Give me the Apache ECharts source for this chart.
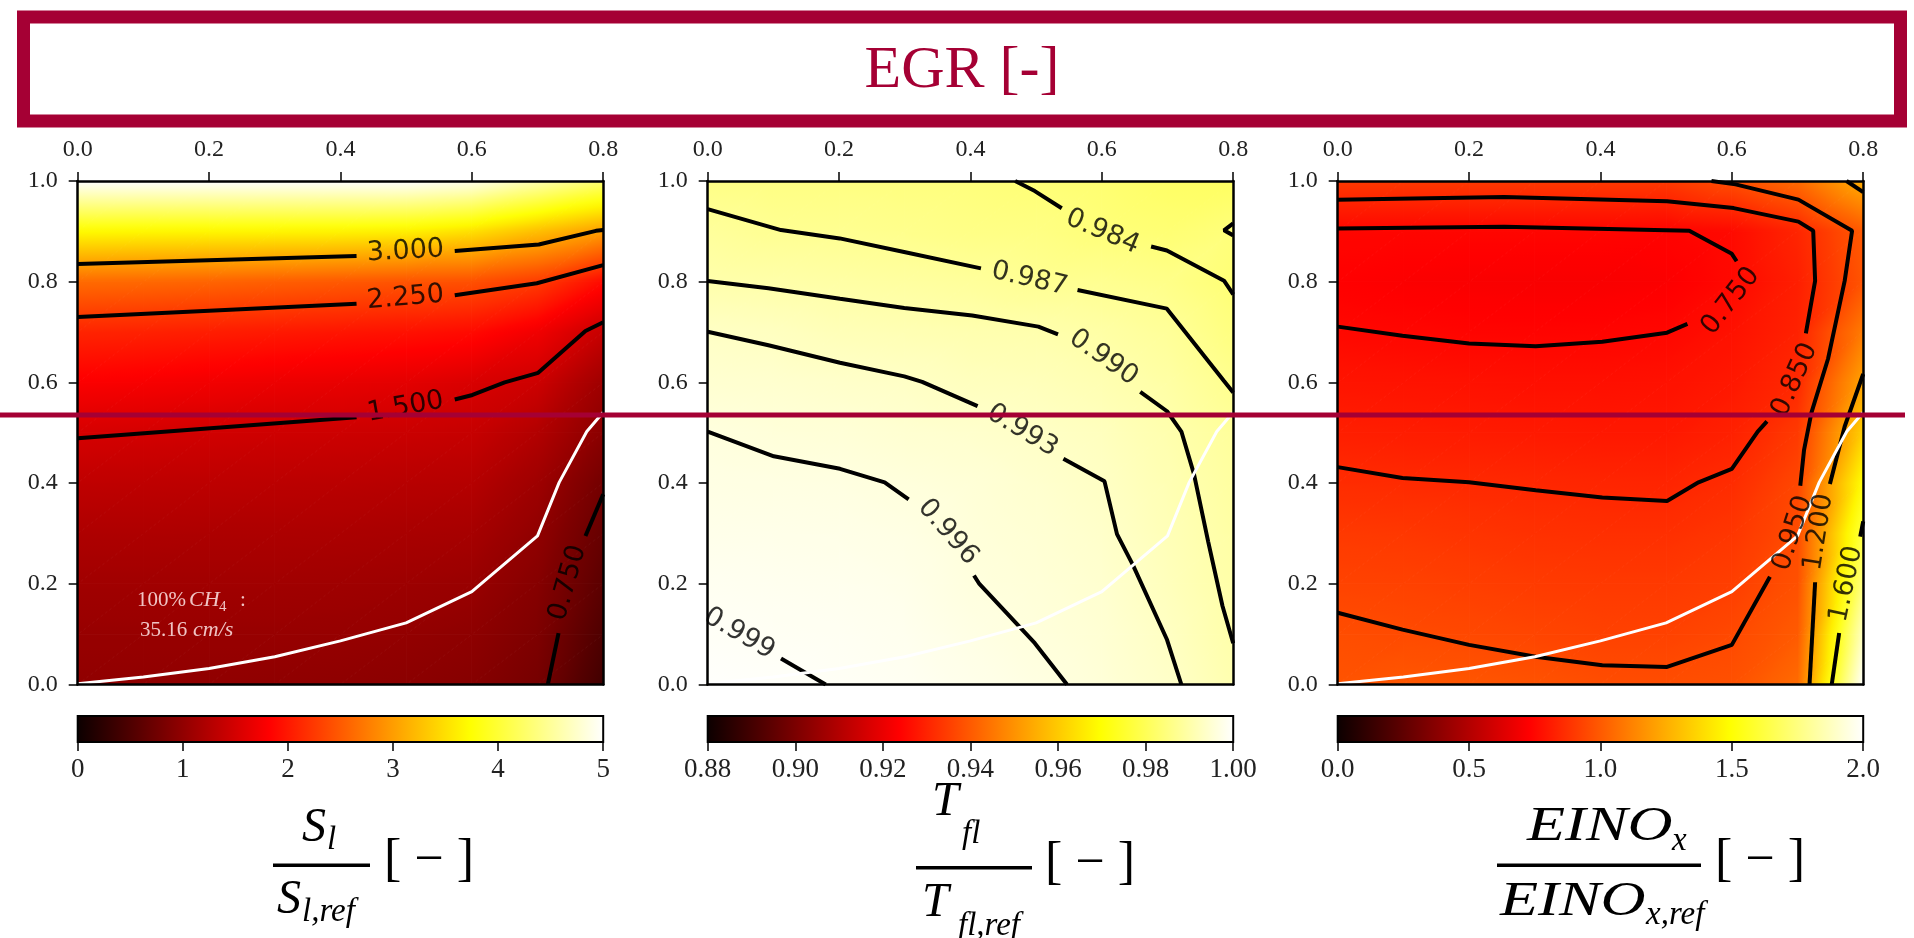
<!DOCTYPE html>
<html>
<head>
<meta charset="utf-8">
<script src="https://cdn.jsdelivr.net/npm/echarts@6.0.0/dist/echarts.min.js"></script>
<style>
  html, body { margin: 0; padding: 0; background: #fff; }
  #chart { width: 1914px; height: 938px; }
</style>
</head>
<body>
<div id="chart"></div>
<script>
// grid nodes (EGR on x, second parameter on y)
const egr = [0, 0.1, 0.2, 0.3, 0.4, 0.5, 0.6, 0.7, 0.8];
const yNodes = [0, 0.1, 0.2, 0.3, 0.4, 0.5, 0.6, 0.7, 0.8, 0.9, 1.0];

// S_l / S_l,ref, rows from y=0 (bottom) to y=1 (top)
const slValues = [
  [1.00, 1.00, 1.00, 0.99, 0.98, 0.96, 0.92, 0.80, 0.40],
  [1.05, 1.05, 1.05, 1.05, 1.04, 1.02, 0.98, 0.86, 0.50],
  [1.12, 1.12, 1.12, 1.12, 1.11, 1.09, 1.06, 0.92, 0.60],
  [1.22, 1.22, 1.21, 1.21, 1.20, 1.18, 1.16, 1.00, 0.68],
  [1.35, 1.34, 1.33, 1.32, 1.31, 1.29, 1.27, 1.10, 0.78],
  [1.52, 1.50, 1.48, 1.46, 1.45, 1.43, 1.40, 1.25, 0.95],
  [1.80, 1.77, 1.73, 1.69, 1.66, 1.62, 1.54, 1.45, 1.10],
  [2.09, 2.07, 2.04, 2.01, 1.98, 1.95, 1.90, 1.72, 1.40],
  [2.62, 2.60, 2.57, 2.53, 2.49, 2.45, 2.42, 2.27, 1.90],
  [3.70, 3.68, 3.67, 3.66, 3.65, 3.62, 3.50, 3.25, 3.00],
  [5.00, 5.00, 5.00, 5.00, 5.00, 5.00, 4.90, 4.60, 4.30]
];

// T_fl / T_fl,ref
const tflValues = [
  [0.9997, 0.9994, 0.9989, 0.9985, 0.9975, 0.9965, 0.9953, 0.9935, 0.9905],
  [0.9990, 0.9987, 0.9985, 0.9980, 0.9968, 0.9958, 0.9948, 0.9928, 0.9898],
  [0.9983, 0.9981, 0.9979, 0.9974, 0.99605, 0.9953, 0.9943, 0.9920, 0.9895],
  [0.9975, 0.9974, 0.9972, 0.9967, 0.9956, 0.9948, 0.9937, 0.9915, 0.9892],
  [0.9968, 0.9966, 0.9964, 0.9958, 0.9952, 0.9942, 0.9930, 0.9910, 0.9887],
  [0.9960, 0.9955, 0.9952, 0.9945, 0.9940, 0.9932, 0.9922, 0.9903, 0.9880],
  [0.9945, 0.9942, 0.9937, 0.9932, 0.9922, 0.9918, 0.9908, 0.9892, 0.9865],
  [0.9930, 0.9925, 0.9915, 0.9910, 0.9905, 0.9902, 0.9893, 0.9878, 0.9848],
  [0.9900, 0.9897, 0.9892, 0.9887, 0.9880, 0.9870, 0.9868, 0.9858, 0.9835],
  [0.9880, 0.9870, 0.9868, 0.9862, 0.9855, 0.9852, 0.9840, 0.9833, 0.9841],
  [0.9855, 0.9852, 0.9850, 0.9847, 0.9843, 0.9837, 0.9830, 0.9816, 0.9812]
];

// EINOx / EINOx,ref
const einoxValues = [
  [0.980, 0.990, 0.985, 0.975, 0.960, 0.960, 0.970, 1.050, 2.00],
  [0.960, 0.952, 0.945, 0.935, 0.925, 0.925, 0.945, 1.000, 1.88],
  [0.930, 0.925, 0.915, 0.905, 0.900, 0.900, 0.915, 0.970, 1.75],
  [0.900, 0.895, 0.885, 0.875, 0.870, 0.870, 0.890, 0.955, 1.63],
  [0.860, 0.855, 0.851, 0.845, 0.840, 0.838, 0.860, 0.940, 1.50],
  [0.820, 0.815, 0.810, 0.805, 0.800, 0.800, 0.825, 0.900, 1.35],
  [0.790, 0.785, 0.780, 0.775, 0.775, 0.780, 0.800, 0.850, 1.22],
  [0.755, 0.748, 0.742, 0.740, 0.742, 0.749, 0.780, 0.830, 1.10],
  [0.730, 0.720, 0.715, 0.712, 0.712, 0.720, 0.755, 0.820, 0.98],
  [0.748, 0.745, 0.745, 0.745, 0.745, 0.740, 0.760, 0.840, 1.00],
  [0.900, 0.900, 0.900, 0.900, 0.900, 0.900, 0.960, 1.050, 1.25]
];

// colour ranges and colourbar ticks [min, max, step]
const slRange = [0, 5, 1];
const tflRange = [0.88, 1.0, 0.02];
const einoxRange = [0, 2, 0.5];

// white reference curve (same in all three panels)
const whiteCurve = [[0, 0.0013], [0.1, 0.015], [0.2, 0.0316], [0.3, 0.0551], [0.4, 0.0867], [0.5, 0.1224],
  [0.6, 0.1843], [0.7, 0.2952], [0.733, 0.4015], [0.775, 0.5024], [0.8, 0.5407]];

// contour pieces (broken where the inline labels sit)
const slContours = [
  [[0, 0.835], [0.4245, 0.851]], [[0.574, 0.861], [0.702, 0.874], [0.789, 0.901], [0.8, 0.9025]],
  [[0, 0.730], [0.4245, 0.756]], [[0.574, 0.773], [0.699, 0.797], [0.8, 0.833]],
  [[0, 0.489], [0.4245, 0.531]], [[0.574, 0.566], [0.601, 0.575], [0.650, 0.600], [0.701, 0.619], [0.773, 0.702], [0.8, 0.7196]],
  [[0.7157, 0], [0.732, 0.102]], [[0.773, 0.295], [0.8, 0.378]]
];
const slLabels = [[0.499, 0.860, '3.000'], [0.499, 0.768, '2.250'], [0.499, 0.551, '1.500'], [0.7462, 0.2017, '0.750']];
const slAngles = [3, 5, 10, 74];

const tflContours = [
  [[0.468, 1.0], [0.498, 0.980], [0.539, 0.946]], [[0.675, 0.870], [0.699, 0.862], [0.786, 0.802], [0.8, 0.775]],
  [[0.8, 0.916], [0.786, 0.902], [0.8, 0.892]],
  [[0, 0.944], [0.1116, 0.9025], [0.201, 0.886], [0.299, 0.859], [0.416, 0.8265]],
  [[0.563, 0.7835], [0.699, 0.7465], [0.786, 0.603], [0.8, 0.580]],
  [[0, 0.8016], [0.0925, 0.7868], [0.2014, 0.766], [0.2993, 0.7478], [0.4027, 0.733], [0.5034, 0.7108], [0.5333, 0.6954]],
  [[0.6585, 0.581], [0.6993, 0.5427], [0.7211, 0.5024], [0.7402, 0.4183], [0.7619, 0.2838], [0.7837, 0.156], [0.8, 0.082]],
  [[0, 0.7007], [0.0925, 0.6738], [0.2014, 0.6389], [0.2993, 0.612], [0.3265, 0.6012], [0.4109, 0.5528]],
  [[0.5415, 0.4486], [0.6041, 0.4035], [0.6231, 0.2986], [0.6476, 0.2367], [0.6993, 0.0888], [0.7211, 0]],
  [[0, 0.5024], [0.1007, 0.4533], [0.2014, 0.4284], [0.2694, 0.4015], [0.3059, 0.3679]],
  [[0.4054, 0.2165], [0.4136, 0.1997], [0.498, 0.082], [0.547, 0]],
  [[0.1116, 0.0518], [0.1796, 0]]
];
const tflLabels = [[0.601, 0.899, '0.984'], [0.490, 0.805, '0.987'], [0.6025, 0.649, '0.990'],
  [0.479, 0.504, '0.993'], [0.3657, 0.3026, '0.996'], [0.048, 0.101, '0.999']];
const tflAngles = [-23, -13, -35, -31, -49, -30];

const einoxContours = [
  [[0, 0.9058], [0.2535, 0.9092], [0.5352, 0.9011], [0.6, 0.8554], [0.6073, 0.8406]],
  [[0.5324, 0.7162], [0.5014, 0.6987], [0.4028, 0.6806], [0.3014, 0.6718], [0.2, 0.6772], [0.0986, 0.6927], [0, 0.7108]],
  [[0, 0.963], [0.2535, 0.9684], [0.5014, 0.9597], [0.6028, 0.9462], [0.7014, 0.9193], [0.7239, 0.9011], [0.7268, 0.8016], [0.7127, 0.6974]],
  [[0.6535, 0.5225], [0.6394, 0.5023], [0.6, 0.4284], [0.5493, 0.4015], [0.5014, 0.3645], [0.4028, 0.3712], [0.3014, 0.386], [0.2, 0.4015], [0.0986, 0.4102], [0, 0.4317]],
  [[0.569, 1.0], [0.6056, 0.9933], [0.7014, 0.963], [0.7831, 0.9011], [0.7718, 0.8016], [0.7465, 0.647], [0.7211, 0.5393], [0.7099, 0.4654], [0.7042, 0.3948]],
  [[0.658, 0.2138], [0.6, 0.0787], [0.5014, 0.035], [0.4028, 0.0383], [0.3014, 0.0551], [0.2, 0.0787], [0.0986, 0.1089], [0, 0.1426]],
  [[0.7746, 1.0], [0.8, 0.9778]],
  [[0.8, 0.6167], [0.7718, 0.5124], [0.7493, 0.3981]], [[0.7268, 0.2031], [0.7183, 0]],
  [[0.8, 0.3241], [0.7955, 0.2939]], [[0.7634, 0.1022], [0.7521, 0]]
];
const einoxLabels = [[0.5983, 0.7613, '0.750'], [0.6958, 0.605, '0.850'], [0.693, 0.3006, '0.950'],
  [0.7324, 0.3026, '1.200'], [0.7746, 0.1997, '1.600']];
const einoxAngles = [52, 66, 72, 81, 78];

// ---------------------------------------------------------------------------
const panelLeft = [77.7, 707.7, 1337.7];
const panelTop = 181;
const panelW = 525.5;
const panelH = 503.5;
const cbTop = 716;
const cbH = 26;
const tickFont = 'Liberation Serif';

// matplotlib "hot"
function hot(t) {
  t = Math.max(0, Math.min(1, t));
  const r = t < 0.365079 ? 0.0416 + (1 - 0.0416) * t / 0.365079 : 1;
  const g = t < 0.365079 ? 0 : (t < 0.746032 ? (t - 0.365079) / (0.746032 - 0.365079) : 1);
  const b = t < 0.746032 ? 0 : (t - 0.746032) / (1 - 0.746032);
  return 'rgb(' + Math.round(r * 255) + ',' + Math.round(g * 255) + ',' + Math.round(b * 255) + ')';
}

function cells(values) {
  const out = [];
  for (let j = 0; j < yNodes.length - 1; j++) {
    for (let i = 0; i < egr.length - 1; i++) {
      out.push([egr[i], yNodes[j], egr[i + 1], yNodes[j + 1],
        values[j][i], values[j][i + 1], values[j + 1][i], values[j + 1][i + 1]]);
    }
  }
  return out;
}

// one gouraud-like triangle: value is linear inside, so a linear gradient is exact
function tri(a, b, c, va, vb, vc, range) {
  const norm = v => (v - range[0]) / (range[1] - range[0]);
  const d1x = b[0] - a[0], d1y = b[1] - a[1], d2x = c[0] - a[0], d2y = c[1] - a[1];
  const det = d1x * d2y - d1y * d2x;
  const gx = ((vb - va) * d2y - (vc - va) * d1y) / det;
  const gy = (d1x * (vc - va) - d2x * (vb - va)) / det;
  const g2 = gx * gx + gy * gy;
  const pts = [[a, va], [b, vb], [c, vc]].sort((p, q) => p[1] - q[1]);
  const vmin = pts[0][1], vmax = pts[2][1];
  let fill;
  if (!isFinite(g2) || g2 < 1e-20 || vmax - vmin < 1e-12) {
    fill = hot(norm((va + vb + vc) / 3));
  } else {
    const k = (vmax - vmin) / g2;
    const s = pts[0][0];
    const stops = [];
    for (let n = 0; n <= 8; n++) {
      const t = n / 8;
      stops.push({ offset: t, color: hot(norm(vmin + t * (vmax - vmin))) });
    }
    fill = new echarts.graphic.LinearGradient(s[0], s[1], s[0] + gx * k, s[1] + gy * k, stops, true);
  }
  return {
    type: 'polygon', silent: true,
    shape: { points: [a, b, c] },
    style: { fill: fill, stroke: fill, lineWidth: 1 }
  };
}

function heatRenderer(range) {
  return function (params, api) {
    const x0 = api.value(0), y0 = api.value(1), x1 = api.value(2), y1 = api.value(3);
    const p00 = api.coord([x0, y0]), p10 = api.coord([x1, y0]);
    const p01 = api.coord([x0, y1]), p11 = api.coord([x1, y1]);
    const v00 = api.value(4), v10 = api.value(5), v01 = api.value(6), v11 = api.value(7);
    return {
      type: 'group',
      children: [tri(p00, p10, p11, v00, v10, v11, range), tri(p00, p11, p01, v00, v11, v01, range)]
    };
  };
}

function colorbarRenderer(params, api) {
  const p0 = api.coord([api.value(0), api.value(2)]);
  const p1 = api.coord([api.value(1), api.value(3)]);
  const stops = [0, 0.125, 0.25, 0.365079, 0.5, 0.62, 0.746032, 0.87, 1].map(t => ({ offset: t, color: hot(t) }));
  return {
    type: 'rect', silent: true,
    shape: { x: p0[0], y: p1[1], width: p1[0] - p0[0], height: p0[1] - p1[1] },
    style: { fill: new echarts.graphic.LinearGradient(0, 0, 1, 0, stops), stroke: '#000', lineWidth: 2 }
  };
}

const panels = [
  { values: slValues, range: slRange, contours: slContours, labels: slLabels, angles: slAngles, digits: 0 },
  { values: tflValues, range: tflRange, contours: tflContours, labels: tflLabels, angles: tflAngles, digits: 2 },
  { values: einoxValues, range: einoxRange, contours: einoxContours, labels: einoxLabels, angles: einoxAngles, digits: 1 }
];

const grids = [], xAxes = [], yAxes = [], series = [];
const frameLine = { show: true, onZero: false, lineStyle: { color: '#000', width: 2.5 } };

panels.forEach((p, i) => {
  grids.push({ left: panelLeft[i], top: panelTop, width: panelW, height: panelH, outerBoundsMode: 'none' });
  xAxes.push({
    gridIndex: i, type: 'value', position: 'top', min: 0, max: 0.8, interval: 0.2, z: 10,
    axisLine: frameLine,
    axisTick: { show: true, inside: false, length: 9, lineStyle: { color: '#000', width: 1.5 } },
    axisLabel: { margin: 19, fontSize: 24, fontFamily: tickFont, color: '#222', formatter: v => v.toFixed(1) },
    splitLine: { show: false }
  });
  xAxes.push({
    gridIndex: i, type: 'value', position: 'bottom', min: 0, max: 0.8, z: 10,
    axisLine: frameLine, axisTick: { show: false }, axisLabel: { show: false }, splitLine: { show: false }
  });
  yAxes.push({
    gridIndex: i, type: 'value', position: 'left', min: 0, max: 1, interval: 0.2, z: 10,
    axisLine: frameLine,
    axisTick: { show: true, inside: false, length: 9, lineStyle: { color: '#000', width: 1.5 } },
    axisLabel: { margin: 20, fontSize: 24, fontFamily: tickFont, color: '#222', formatter: v => v.toFixed(1) },
    splitLine: { show: false }
  });
  yAxes.push({
    gridIndex: i, type: 'value', position: 'right', min: 0, max: 1, z: 10,
    axisLine: frameLine, axisTick: { show: false }, axisLabel: { show: false }, splitLine: { show: false }
  });

  series.push({
    type: 'custom', xAxisIndex: 2 * i, yAxisIndex: 2 * i, silent: true, z: 1, clip: true,
    encode: { x: [0, 2], y: [1, 3] },
    data: cells(p.values),
    renderItem: heatRenderer(p.range)
  });
  p.contours.forEach(seg => {
    series.push({
      type: 'line', xAxisIndex: 2 * i, yAxisIndex: 2 * i, data: seg, silent: true, z: 3,
      symbol: 'none', showSymbol: false, lineStyle: { color: '#000', width: 4 }
    });
  });
  series.push({
    type: 'line', xAxisIndex: 2 * i, yAxisIndex: 2 * i, data: whiteCurve, silent: true, z: 3,
    symbol: 'none', showSymbol: false, lineStyle: { color: '#fff', width: 3 }
  });
  series.push({
    type: 'scatter', xAxisIndex: 2 * i, yAxisIndex: 2 * i, silent: true, z: 4, symbolSize: 0,
    data: p.labels.map((l, k) => ({
      value: [l[0], l[1]],
      label: { show: true, formatter: l[2], rotate: p.angles[k] }
    })),
    label: { show: true, position: 'inside', color: '#000', fontSize: 27, fontFamily: 'DejaVu Sans' }
  });
});

// colourbars
panels.forEach((p, i) => {
  grids.push({ left: panelLeft[i], top: cbTop, width: panelW, height: cbH, outerBoundsMode: 'none' });
  xAxes.push({
    gridIndex: 3 + i, type: 'value', position: 'bottom', min: p.range[0], max: p.range[1], interval: p.range[2], z: 10,
    axisLine: { show: false },
    axisTick: { show: true, inside: false, length: 9, lineStyle: { color: '#000', width: 1.5 } },
    axisLabel: { margin: 14, fontSize: 27, fontFamily: tickFont, color: '#222', formatter: v => v.toFixed(p.digits) },
    splitLine: { show: false }
  });
  yAxes.push({ gridIndex: 3 + i, type: 'value', min: 0, max: 1, show: false });
  series.push({
    type: 'custom', xAxisIndex: 6 + i, yAxisIndex: 6 + i, silent: true, z: 1,
    encode: { x: [0, 1], y: [2, 3] },
    data: [[p.range[0], p.range[1], 0, 1]],
    renderItem: colorbarRenderer
  });
});

// graphic helpers: title box, separator and the fraction labels
const crimson = '#A50034';
function txt(str, x, y, font, extra, color) {
  return Object.assign({
    type: 'text', x: x, y: y, z: 50, silent: true,
    style: { text: str, x: 0, y: 0, font: font, fill: color || '#000', align: 'left', verticalAlign: 'middle',
      textAlign: 'left', textVerticalAlign: 'middle' }
  }, extra || {});
}
function bar(x, y, w) {
  return { type: 'rect', z: 50, silent: true, shape: { x: x, y: y, width: w, height: 3.5 }, style: { fill: '#000' } };
}
const big = 'italic 48px "Liberation Serif"';
const sub = 'italic 33px "Liberation Serif"';
const brk = '52px "Liberation Serif"';
const note = '21px "Liberation Serif"';
const noteI = 'italic 22px "Liberation Serif"';
const noteCol = 'rgba(255,230,230,0.85)';

const graphics = [
  { type: 'rect', z: 60, silent: true, shape: { x: 23.5, y: 17, width: 1877, height: 104 },
    style: { fill: 'rgba(0,0,0,0)', stroke: crimson, lineWidth: 13 } },
  { type: 'text', z: 60, silent: true, x: 962, y: 71,
    style: { text: 'EGR [-]', x: 0, y: 0, font: '60px "Liberation Serif"', fill: crimson,
      align: 'center', verticalAlign: 'middle', textAlign: 'center', textVerticalAlign: 'middle' } },
  { type: 'line', z: 100, silent: true, shape: { x1: 0, y1: 415, x2: 1905, y2: 415 },
    style: { stroke: crimson, lineWidth: 5 } },

  // panel 1 note
  txt('100%', 137, 600, note, null, noteCol),
  txt('CH', 189, 600, noteI, null, noteCol),
  txt('4', 219, 607, '15px "Liberation Serif"', null, noteCol),
  txt(':', 240, 600, note, null, noteCol),
  txt('35.16', 140, 630, note, null, noteCol),
  txt('cm/s', 193, 630, noteI, null, noteCol),

  // fraction 1
  txt('S', 302, 828, big), txt('l', 327, 840, sub),
  bar(273, 863.5, 97),
  txt('S', 277, 900, big), txt('l,ref', 302, 912, sub),
  txt('[ \u2212 ]', 384, 861, brk),

  // fraction 2
  txt('T', 932, 802, big), txt('fl', 962, 834, sub),
  bar(916, 866, 116),
  txt('T', 922, 903, big), txt('fl,ref', 958, 926, sub),
  txt('[ \u2212 ]', 1045, 864, brk),

  // fraction 3
  txt('EINO', 1527, 827, big, { scaleX: 1.3 }), txt('x', 1672, 841, sub),
  bar(1497, 863.5, 204),
  txt('EINO', 1500, 902, big, { scaleX: 1.3 }), txt('x,ref', 1646, 915, sub),
  txt('[ \u2212 ]', 1715, 861, brk)
];

const chart = echarts.init(document.getElementById('chart'));
chart.setOption({
  animation: false,
  backgroundColor: '#fff',
  grid: grids,
  xAxis: xAxes,
  yAxis: yAxes,
  series: series,
  graphic: { elements: graphics }
});
</script>
</body>
</html>
